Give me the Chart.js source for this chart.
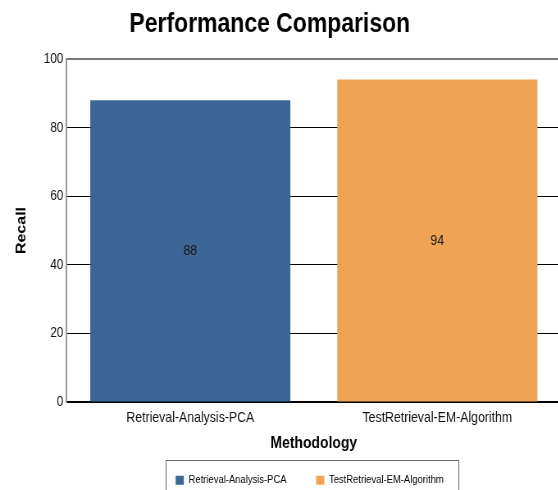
<!DOCTYPE html>
<html>
<head>
<meta charset="utf-8">
<script src="https://cdn.jsdelivr.net/npm/chart.js@4.4.1/dist/chart.umd.min.js"></script>
<style>
  html, body { margin: 0; padding: 0; background: #fff; }
  #wrap { width: 558px; height: 490px; overflow: hidden; position: relative; }
  /* the chart is laid out wide and squeezed horizontally for a condensed look */
  #squeeze { transform: scaleX(0.82); transform-origin: 0 0; width: 684px; }
  canvas { display: block; }
</style>
</head>
<body>
<div id="wrap"><div id="squeeze"><canvas id="chart" width="684" height="496"></canvas></div></div>
<script>
// Chart data
const categories = ['Retrieval-Analysis-PCA', 'TestRetrieval-EM-Algorithm'];
const recall = [88, 94];
const barColors = ['#3b6696', '#eea454'];
const yRange = [0, 100];
const yStep = 20;

const chartTitle = 'Performance Comparison';
const xTitle = 'Methodology';
const yTitle = 'Recall';

const FONT = "'Liberation Sans', Arial, sans-serif";

// Title drawn at a fixed spot above the plot
const titlePlugin = {
  id: 'fixedTitle',
  afterDraw(chart) {
    const c = chart.ctx;
    c.save();
    c.font = "bold 28px " + FONT;
    c.fillStyle = '#000';
    c.textAlign = 'center';
    c.textBaseline = 'middle';
    c.fillText(chartTitle, 329, 24);
    c.restore();
  }
};

// Value written in the middle of each bar
const valueLabels = {
  id: 'valueLabels',
  afterDatasetsDraw(chart) {
    const c = chart.ctx;
    const meta = chart.getDatasetMeta(0);
    c.save();
    c.font = "15px " + FONT;
    c.fillStyle = '#1a1a1a';
    c.textAlign = 'center';
    c.textBaseline = 'middle';
    meta.data.forEach((bar, i) => {
      const v = chart.data.datasets[0].data[i];
      c.fillText(String(v), bar.x, (bar.y + bar.base) / 2);
    });
    c.restore();
  }
};

// Nudge the legend row a little to the left of the plot centre
const legendShift = {
  id: 'legendShift',
  afterLayout(chart) {
    const lg = chart.legend;
    if (!lg) return;
    lg.left -= 5;
    lg.right -= 5;
  }
};

// Frame around the legend row
const legendFrame = {
  id: 'legendFrame',
  afterDraw(chart) {
    const lg = chart.legend;
    if (!lg || !lg.legendHitBoxes.length) return;
    const boxes = lg.legendHitBoxes;
    const first = boxes[0];
    const last = boxes[boxes.length - 1];
    const left = Math.round(first.left - 12) + 0.5;
    const right = Math.round(last.left + last.width + 18) + 0.5;
    const top = Math.round(first.top - 15) + 0.5;
    const c = chart.ctx;
    c.save();
    c.strokeStyle = '#666';
    c.lineWidth = 1;
    c.strokeRect(left, top, right - left, 42);
    c.restore();
  }
};

new Chart(document.getElementById('chart'), {
  type: 'bar',
  data: {
    labels: categories,
    datasets: [{
      label: yTitle,
      data: recall,
      backgroundColor: barColors,
      borderWidth: 0,
      barPercentage: 0.81,
      categoryPercentage: 1.0
    }]
  },
  options: {
    responsive: false,
    animation: false,
    layout: { padding: { top: 59, left: 17, right: 0, bottom: 0 } },
    plugins: {
      title: { display: false },
      tooltip: { enabled: false },
      legend: {
        display: true,
        position: 'bottom',
        fullSize: false,
        labels: {
          font: { family: FONT, size: 11.5 },
          color: '#111',
          boxWidth: 10,
          boxHeight: 9,
          padding: 36,
          generateLabels(chart) {
            return categories.map((name, i) => ({
              text: name,
              fillStyle: barColors[i],
              strokeStyle: barColors[i],
              lineWidth: 0,
              hidden: false,
              index: i
            }));
          }
        }
      }
    },
    scales: {
      x: {
        grid: { display: false, drawTicks: false },
        border: { display: true, color: '#000', width: 1.5 },
        ticks: {
          font: { family: FONT, size: 15 },
          color: '#111',
          padding: 7,
          maxRotation: 0
        },
        title: {
          display: true,
          text: xTitle,
          font: { family: FONT, size: 17, weight: 'bold' },
          color: '#000',
          padding: { top: -1, bottom: -15 }
        }
      },
      y: {
        min: yRange[0],
        max: yRange[1],
        grid: {
          drawTicks: false,
          color: (ctx) => (ctx.tick && ctx.tick.value === yRange[1]) ? '#777' : '#000',
          lineWidth: (ctx) => (ctx.tick && ctx.tick.value === yRange[1]) ? 2 : 1
        },
        border: { display: true, color: '#9a9a9a', width: 2 },
        ticks: {
          stepSize: yStep,
          font: { family: FONT, size: 14.5 },
          color: '#111',
          padding: 4
        },
        title: {
          display: true,
          text: yTitle,
          font: { family: FONT, size: 16, weight: 'bold' },
          color: '#000',
          padding: { top: 0, bottom: 13 }
        }
      }
    }
  },
  plugins: [titlePlugin, valueLabels, legendShift, legendFrame]
});
</script>
</body>
</html>
